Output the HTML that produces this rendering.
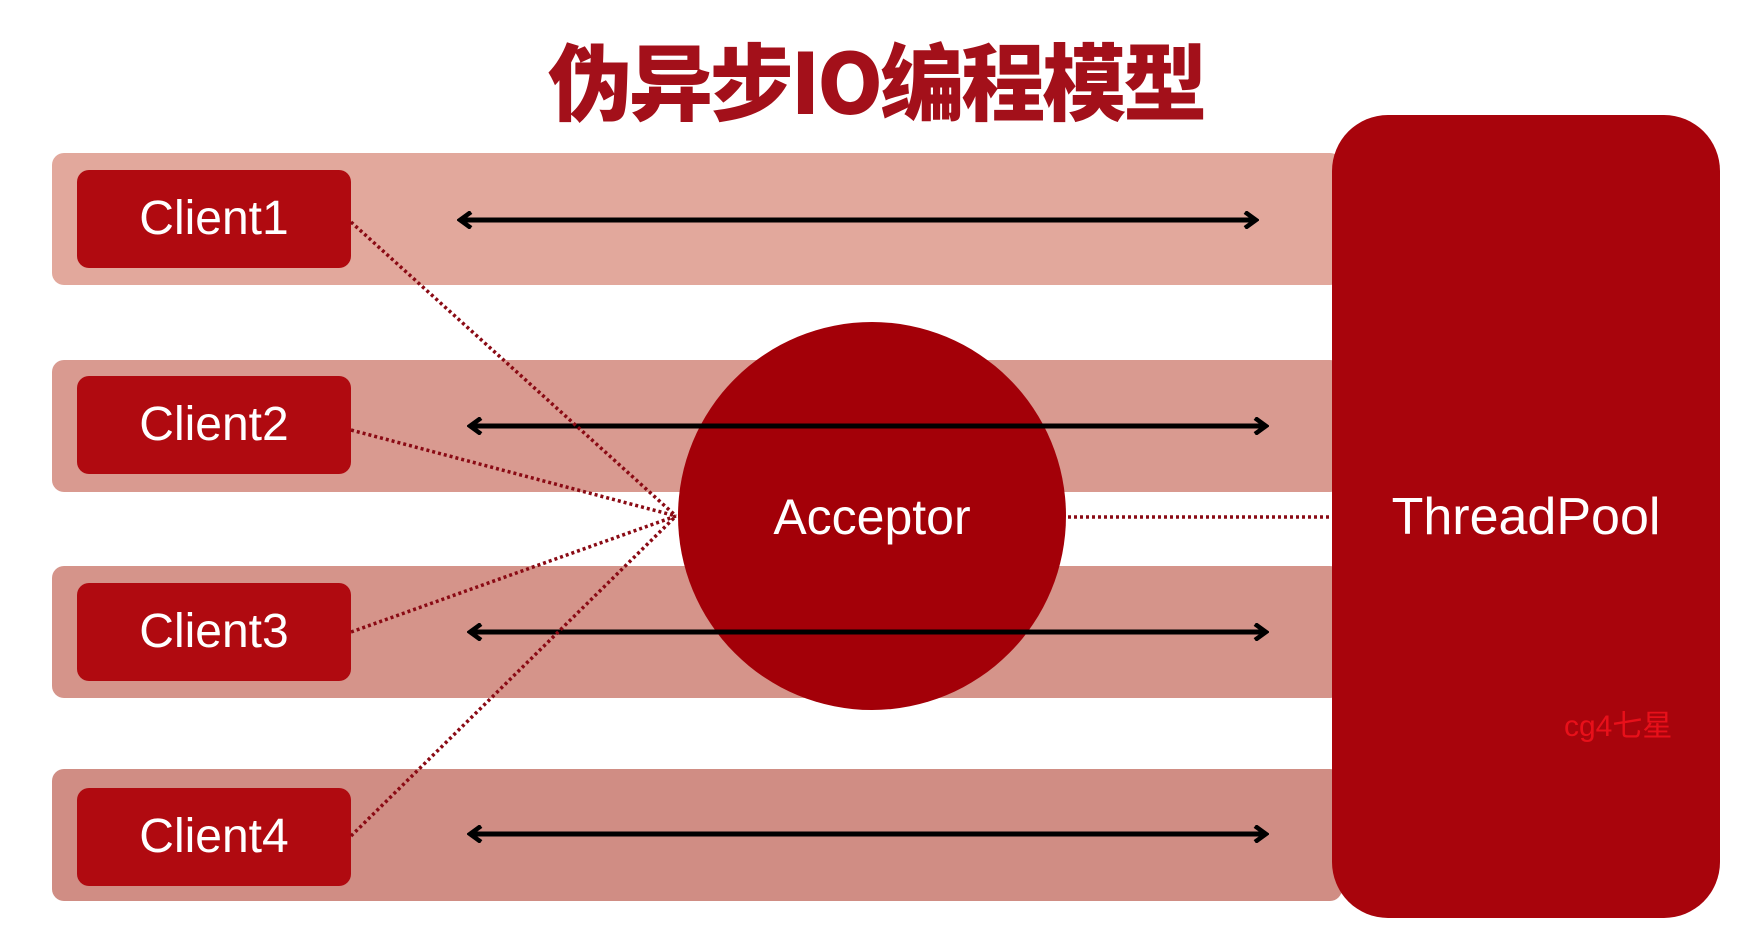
<!DOCTYPE html>
<html><head><meta charset="utf-8"><style>
body{margin:0;width:1752px;height:938px;background:#fff;overflow:hidden;position:relative;font-family:"Liberation Sans","Noto Sans CJK SC",sans-serif}
.t{position:absolute;left:0;width:1752px;text-align:center;top:18px;font-size:84px;font-weight:900;color:#a3101a;font-family:"Noto Sans CJK SC",sans-serif;letter-spacing:-3px}
.band{position:absolute;left:52px;width:1290px;height:132px;border-radius:12px}
.c{position:absolute;left:77px;width:274px;height:98px;background:#b00a10;border-radius:12px;color:#fff;font-size:48px;line-height:98px;text-align:center}
</style></head><body>
<div class="t">伪异步IO编程模型</div>
<div class="band" style="top:153px;background:#e2a89c"></div>
<div class="band" style="top:360px;background:#d99a90"></div>
<div class="band" style="top:566px;background:#d5948a"></div>
<div class="band" style="top:769px;background:#d08d84"></div>
<div class="c" style="top:170px">Client1</div>
<div class="c" style="top:376px">Client2</div>
<div class="c" style="top:583px">Client3</div>
<div class="c" style="top:788px">Client4</div>
<div style="position:absolute;left:678px;top:322px;width:388px;height:388px;border-radius:50%;background:#a30008"></div>
<div style="position:absolute;left:1332px;top:115px;width:388px;height:803px;border-radius:56px;background:#a8040c"></div>
<svg width="1752" height="938" style="position:absolute;left:0;top:0">
<defs><marker id="a" markerWidth="16" markerHeight="18" refX="13" refY="9" orient="auto-start-reverse" markerUnits="userSpaceOnUse"><path d="M2,1 L13,9 L2,17" fill="none" stroke="#000" stroke-width="4.5"/></marker></defs>
<g stroke="#000" stroke-width="5" marker-start="url(#a)" marker-end="url(#a)">
<line x1="460" y1="220" x2="1256" y2="220"/>
<line x1="470" y1="426" x2="1266" y2="426"/>
<line x1="470" y1="632" x2="1266" y2="632"/>
<line x1="470" y1="834" x2="1266" y2="834"/>
</g>
<g stroke="#8a0a14" stroke-width="3.5" stroke-dasharray="3,3">
<line x1="351" y1="222" x2="676" y2="516"/>
<line x1="351" y1="430" x2="676" y2="516"/>
<line x1="351" y1="632" x2="676" y2="516"/>
<line x1="351" y1="836" x2="676" y2="516"/>
<line x1="1068" y1="517" x2="1332" y2="517"/>
</g>
<text x="872" y="534" fill="#fff" font-size="50" text-anchor="middle" font-family="Liberation Sans, sans-serif">Acceptor</text>
<text x="1526" y="534" fill="#fff" font-size="52" text-anchor="middle" font-family="Liberation Sans, sans-serif">ThreadPool</text>
<text x="1564" y="736" fill="#e8101a" font-size="30" font-family="Liberation Sans, Noto Sans CJK SC, sans-serif">cg4七星</text>
</svg>
</body></html>
